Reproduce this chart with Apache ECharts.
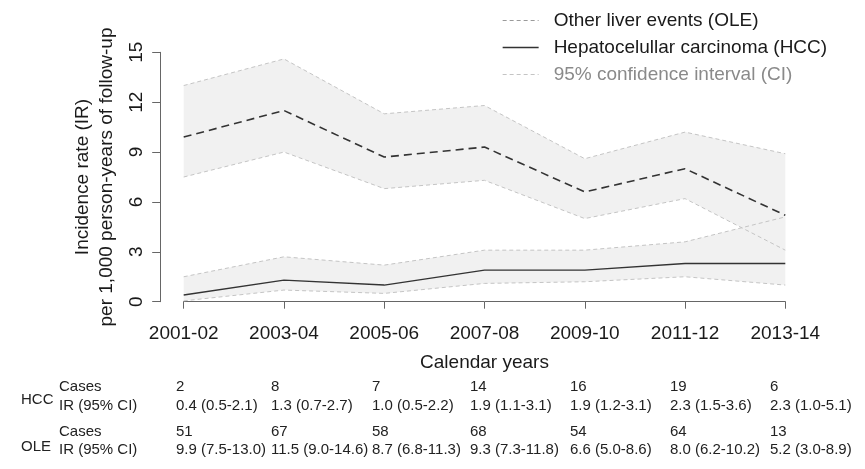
<!DOCTYPE html>
<html>
<head>
<meta charset="utf-8">
<script src="https://cdn.jsdelivr.net/npm/echarts@6/dist/echarts.min.js"></script>
<style>
  html, body { margin: 0; padding: 0; background: #fff; }
  #chart { width: 865px; height: 469px; }
</style>
</head>
<body>
<div id="chart"></div>
<script>
// periods on the x axis
const years = ["2001-02", "2003-04", "2005-06", "2007-08", "2009-10", "2011-12", "2013-14"];
const yTicks = [0, 3, 6, 9, 12, 15];

// incidence rates per 1,000 person-years
const oleRate = [9.9, 11.5, 8.7, 9.3, 6.6, 8.0, 5.2];
const oleLow = [7.5, 9.0, 6.8, 7.3, 5.0, 6.2, 3.1];
const oleHigh = [13.0, 14.6, 11.3, 11.8, 8.6, 10.2, 8.9];
const hccRate = [0.4, 1.3, 1.0, 1.9, 1.9, 2.3, 2.3];
const hccLow = [0.05, 0.7, 0.5, 1.1, 1.2, 1.5, 1.0];
const hccHigh = [1.5, 2.7, 2.2, 3.1, 3.1, 3.6, 5.1];

// table under the chart
const hccCases = [2, 8, 7, 14, 16, 19, 6];
const hccIrText = ["0.4 (0.5-2.1)", "1.3 (0.7-2.7)", "1.0 (0.5-2.2)", "1.9 (1.1-3.1)", "1.9 (1.2-3.1)", "2.3 (1.5-3.6)", "2.3 (1.0-5.1)"];
const oleCases = [51, 67, 58, 68, 54, 64, 13];
const oleIrText = ["9.9 (7.5-13.0)", "11.5 (9.0-14.6)", "8.7 (6.8-11.3)", "9.3 (7.3-11.8)", "6.6 (5.0-8.6)", "8.0 (6.2-10.2)", "5.2 (3.0-8.9)"];

const FONT = "Liberation Sans, Arial, sans-serif";
const CI_NAME = "95% confidence interval (CI)";
const OLE_NAME = "Other liver events (OLE)";
const HCC_NAME = "Hepatocelullar carcinoma (HCC)";

const ciLine = { color: "#c4c4c4", width: 1, type: [4, 3] };
const bandFill = { color: "#f1f1f1", opacity: 1 };

function diff(hi, lo) {
  return hi.map((v, i) => +(v - lo[i]).toFixed(2));
}

function band(name, stack, data, filled) {
  return {
    name: name, type: "line", stack: stack, data: data,
    symbol: "none", silent: true, z: 1,
    lineStyle: { opacity: 0 },
    areaStyle: filled ? bandFill : null
  };
}

function ci(data) {
  return {
    name: CI_NAME, type: "line", data: data,
    symbol: "none", silent: true, z: 2,
    lineStyle: ciLine
  };
}

// table text
const colX = [176, 271, 372, 470, 570, 670, 770];
const tableFont = "15px " + FONT;
const tableColor = "#222";
const graphics = [];
function txt(x, y, s, font) {
  graphics.push({
    type: "text", x: x, y: y, silent: true,
    style: { text: String(s), font: font || tableFont, fill: tableColor, verticalAlign: "middle" }
  });
}
txt(59, 387, "Cases");
txt(59, 406, "IR (95% CI)");
txt(21, 400, "HCC");
txt(59, 432, "Cases");
txt(59, 450, "IR (95% CI)");
txt(21, 447, "OLE");
colX.forEach((x, i) => {
  txt(x, 387, hccCases[i]);
  txt(x, 406, hccIrText[i]);
  txt(x, 432, oleCases[i]);
  txt(x, 450, oleIrText[i]);
});

const chart = echarts.init(document.getElementById("chart"));
chart.setOption({
  animation: false,
  backgroundColor: "#fff",
  textStyle: { fontFamily: FONT },
  grid: { left: 183.7, right: 79.7, top: 52.3, bottom: 167.3, containLabel: false },
  legend: {
    left: 497, top: 6, orient: "vertical",
    itemWidth: 36, itemHeight: 16, itemGap: 8,
    selectedMode: false,
    itemStyle: { opacity: 0 },
    textStyle: { fontSize: 19, color: "#1a1a1a", fontFamily: FONT, padding: [0, 0, 0, 10] },
    data: [
      { name: OLE_NAME, lineStyle: { color: "#9a9a9a", width: 1, type: [4, 3] } },
      { name: HCC_NAME, lineStyle: { color: "#333", width: 1.3, type: "solid" } },
      { name: CI_NAME, lineStyle: { color: "#c4c4c4", width: 1, type: [4, 3] }, textStyle: { color: "#8a8a8a" } }
    ]
  },
  xAxis: {
    type: "category", data: years, boundaryGap: false, offset: 10.6,
    name: "Calendar years", nameLocation: "middle", nameGap: 41,
    nameTextStyle: { fontSize: 19, color: "#1a1a1a" },
    axisLine: { lineStyle: { color: "#666", width: 1 } },
    axisTick: { length: 7, lineStyle: { color: "#666" } },
    axisLabel: { fontSize: 19, color: "#1a1a1a", margin: 12 },
    splitLine: { show: false }
  },
  yAxis: {
    type: "value", min: 0, max: 15, interval: 3, offset: 23.5,
    name: "Incidence rate (IR)\nper 1,000 person-years of follow-up",
    nameLocation: "middle", nameRotate: 90, nameGap: 41,
    nameTextStyle: { fontSize: 19, color: "#1a1a1a", lineHeight: 24 },
    axisLine: { show: true, lineStyle: { color: "#666", width: 1 } },
    axisTick: { show: true, length: 8, lineStyle: { color: "#666" } },
    axisLabel: { fontSize: 19, color: "#1a1a1a", rotate: 90, margin: 14,
      formatter: v => (yTicks.indexOf(v) >= 0 ? String(v) : "") },
    splitLine: { show: false }
  },
  graphic: graphics,
  series: [
    band("ole-base", "ole", oleLow, false),
    band("ole-band", "ole", diff(oleHigh, oleLow), true),
    band("hcc-base", "hcc", hccLow, false),
    band("hcc-band", "hcc", diff(hccHigh, hccLow), true),
    ci(oleLow), ci(oleHigh), ci(hccLow), ci(hccHigh),
    {
      name: OLE_NAME, type: "line", data: oleRate, symbol: "none", z: 3,
      lineStyle: { color: "#333", width: 1.6, type: [8, 5] }
    },
    {
      name: HCC_NAME, type: "line", data: hccRate, symbol: "none", z: 3,
      lineStyle: { color: "#333", width: 1.4, type: "solid" }
    }
  ]
});
</script>
</body>
</html>
